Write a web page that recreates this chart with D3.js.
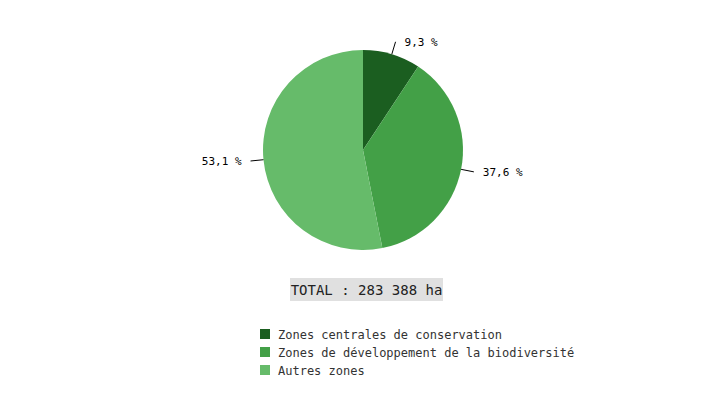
<!DOCTYPE html>
<html><head><meta charset="utf-8">
<script src="https://cdn.jsdelivr.net/npm/d3@7"></script>
<style>body{margin:0;background:#fff;font-family:"DejaVu Sans Mono",monospace;}</style>
</head><body><div id="chart"></div>
<script>
let categories = ["Zones centrales de conservation", "Zones de développement de la biodiversité", "Autres zones"];
let values = [9.3, 37.6, 53.1];
let colors = ["#1b5e20", "#43a047", "#66bb6a"];
let total = "TOTAL : 283 388 ha";

let width = 725, height = 400;
let cx = 363, cy = 150, radius = 100;

let svg = d3.select('#chart').append('svg')
    .attr('width', width).attr('height', height);

let pie = d3.pie().sort(null).value(function (d) { return d; });
let arc = d3.arc().innerRadius(0).outerRadius(radius);
let arcs = pie(values);

let g = svg.append('g').attr('transform', 'translate(' + cx + ',' + cy + ')');

g.selectAll('path').data(arcs).enter().append('path')
    .attr('d', arc)
    .attr('fill', function (d, i) { return colors[i]; });

// leader lines + labels
function pt(d, r) {
    let a = (d.startAngle + d.endAngle) / 2;
    return [r * Math.sin(a), -r * Math.cos(a)];
}
g.selectAll('line.lead').data(arcs).enter().append('line')
    .attr('x1', function (d) { return pt(d, radius)[0]; })
    .attr('y1', function (d) { return pt(d, radius)[1]; })
    .attr('x2', function (d) { return pt(d, 113)[0]; })
    .attr('y2', function (d) { return pt(d, 113)[1]; })
    .attr('stroke', '#000').attr('stroke-width', 1);

g.selectAll('text.lbl').data(arcs).enter().append('text')
    .attr('x', function (d) { let p = pt(d, 113); return p[0] + (p[0] >= 0 ? 9 : -9); })
    .attr('y', function (d) { return pt(d, 113)[1] + 4; })
    .attr('text-anchor', function (d) { return pt(d, 113)[0] >= 0 ? 'start' : 'end'; })
    .attr('font-size', 11).attr('fill', '#000')
    .text(function (d) { return String(d.data).replace('.', ',') + ' %'; });

// total box
svg.append('rect').attr('x', 290).attr('y', 278).attr('width', 153).attr('height', 23).attr('fill', '#e0e0e0');
svg.append('text').attr('x', 366.5).attr('y', 294.5).attr('text-anchor', 'middle')
    .attr('font-size', 14).attr('fill', '#222').text(total);

// legend
let legend = svg.append('g').attr('transform', 'translate(260,329)');
let item = legend.selectAll('g').data(categories).enter().append('g')
    .attr('transform', function (d, i) { return 'translate(0,' + i * 18 + ')'; });
item.append('rect').attr('width', 10).attr('height', 10)
    .attr('fill', function (d, i) { return colors[i]; });
item.append('text').attr('x', 18).attr('y', 9.5).attr('font-size', 12).attr('fill', '#333')
    .text(function (d) { return d; });
</script></body></html>
